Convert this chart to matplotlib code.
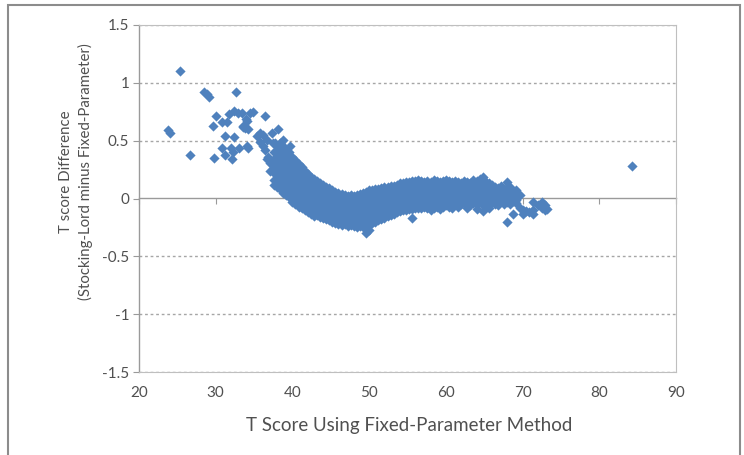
import matplotlib
matplotlib.use("Agg")
import matplotlib.pyplot as plt
from matplotlib.patches import Rectangle

plt.rcParams['font.family'] = ['Lato', 'DejaVu Sans']

# ---- data ----
# sparse low-score points
t_low = [23.8, 24.1, 25.3, 26.6, 28.5, 28.8, 29.1, 32.6, 29.8, 30.1, 29.6, 30.8,
         31.5, 31.7, 32.4, 32.9, 31.2, 32.4, 30.8, 32.0, 32.2, 32.1, 31.2, 33.1,
         33.5, 34.5, 36.4, 34.1, 33.8, 34.2, 34.2, 35.4, 36.1, 35.8, 36.7, 37.3,
         37.7, 36.4, 36.8, 37.1, 38.0, 37.7, 33.4, 34.8, 34.0, 33.6, 34.1, 35.8,
         36.2, 36.7, 37.1, 38.8, 38.4, 39.7, 39.7, 41.0, 41.9, 38.0, 37.5, 38.8,
         38.1]
d_low = [0.59, 0.57, 1.10, 0.38, 0.92, 0.90, 0.88, 0.92, 0.35, 0.71, 0.63, 0.66,
         0.66, 0.73, 0.76, 0.74, 0.54, 0.53, 0.44, 0.44, 0.40, 0.34, 0.38, 0.44,
         0.62, 0.74, 0.71, 0.67, 0.61, 0.60, 0.44, 0.54, 0.55, 0.49, 0.51, 0.57,
         0.48, 0.42, 0.36, 0.31, 0.34, 0.28, 0.74, 0.75, 0.69, 0.63, 0.45, 0.57,
         0.45, 0.34, 0.24, 0.11, 0.40, 0.45, 0.31, 0.23, 0.11, 0.25, 0.48, 0.51,
         0.60]

# dense band: T-score columns and the differences seen at each
t_band = [37.6, 38.0, 38.4, 38.8, 39.2, 39.6, 40.0, 40.4, 40.8, 41.2, 41.6, 42.0,
          42.4, 42.8, 43.2, 43.6, 44.0, 44.4, 44.8, 45.2, 45.6, 46.0, 46.4, 46.8,
          47.2, 47.6, 48.0, 48.4, 48.8, 49.2, 49.6, 50.0, 50.4, 50.8, 51.2, 51.6,
          52.0, 52.4, 52.8, 53.2, 53.6, 54.0, 54.4, 54.8, 55.2, 55.6, 56.0, 56.4,
          56.8, 57.2, 57.6, 58.0, 58.4, 58.8, 59.2, 59.6, 60.0, 60.4, 60.8, 61.2,
          61.6, 62.0, 62.4, 62.8, 63.2, 63.6, 64.0, 64.4, 64.8, 65.2, 65.6, 66.0,
          66.4, 66.8, 67.2, 67.6, 68.0, 68.4, 68.8, 69.2, 69.6, 70.0, 70.4, 70.8,
          71.4, 72.0, 72.5, 72.9, 73.2, 84.3]
d_band = [
    [0.40, 0.34, 0.28, 0.22, 0.16, 0.12],
    [0.45, 0.40, 0.35, 0.30, 0.25, 0.20, 0.15, 0.10],
    [0.48, 0.43, 0.38, 0.33, 0.28, 0.23, 0.18, 0.13, 0.08],
    [0.45, 0.40, 0.35, 0.30, 0.25, 0.20, 0.15, 0.10, 0.05],
    [0.42, 0.37, 0.32, 0.27, 0.22, 0.17, 0.12, 0.07, 0.03],
    [0.40, 0.35, 0.30, 0.25, 0.20, 0.15, 0.10, 0.05, 0.01],
    [0.36, 0.31, 0.26, 0.21, 0.16, 0.11, 0.06, 0.01, -0.03],
    [0.33, 0.28, 0.23, 0.18, 0.13, 0.08, 0.03, -0.02, -0.05],
    [0.30, 0.25, 0.20, 0.15, 0.10, 0.05, 0.00, -0.04, -0.07],
    [0.27, 0.22, 0.17, 0.12, 0.07, 0.02, -0.03, -0.08],
    [0.24, 0.19, 0.14, 0.09, 0.04, -0.01, -0.06, -0.10],
    [0.21, 0.16, 0.11, 0.06, 0.01, -0.04, -0.08, -0.12],
    [0.19, 0.14, 0.09, 0.04, -0.01, -0.06, -0.10, -0.13],
    [0.17, 0.12, 0.07, 0.02, -0.03, -0.08, -0.12, -0.15],
    [0.15, 0.10, 0.05, 0.00, -0.05, -0.10, -0.14],
    [0.13, 0.08, 0.03, -0.02, -0.07, -0.12, -0.16],
    [0.12, 0.07, 0.02, -0.03, -0.08, -0.13, -0.17],
    [0.10, 0.05, 0.00, -0.05, -0.10, -0.14, -0.18],
    [0.09, 0.04, -0.01, -0.06, -0.11, -0.15, -0.19],
    [0.07, 0.02, -0.03, -0.08, -0.12, -0.16, -0.20],
    [0.06, 0.01, -0.04, -0.09, -0.13, -0.17, -0.21],
    [0.05, 0.00, -0.05, -0.10, -0.14, -0.18, -0.22],
    [0.04, -0.01, -0.06, -0.10, -0.15, -0.19, -0.23],
    [0.03, -0.02, -0.07, -0.11, -0.15, -0.19, -0.22],
    [0.02, -0.03, -0.08, -0.12, -0.16, -0.20, -0.24],
    [0.03, -0.02, -0.07, -0.11, -0.15, -0.19, -0.23],
    [0.02, -0.03, -0.08, -0.12, -0.16, -0.20, -0.24],
    [0.03, -0.02, -0.07, -0.11, -0.15, -0.19, -0.23, -0.25],
    [0.04, -0.01, -0.06, -0.10, -0.14, -0.18, -0.22, -0.24],
    [0.05, 0.00, -0.05, -0.09, -0.13, -0.17, -0.21, -0.25],
    [0.06, 0.01, -0.04, -0.08, -0.12, -0.16, -0.20, -0.24, -0.30],
    [0.07, 0.02, -0.03, -0.07, -0.11, -0.15, -0.19, -0.23, -0.27],
    [0.07, 0.02, -0.02, -0.06, -0.10, -0.14, -0.18, -0.21],
    [0.08, 0.03, -0.01, -0.05, -0.09, -0.13, -0.17, -0.20],
    [0.08, 0.04, 0.00, -0.04, -0.08, -0.12, -0.16, -0.19],
    [0.09, 0.05, 0.01, -0.03, -0.07, -0.11, -0.15, -0.18],
    [0.10, 0.06, 0.02, -0.02, -0.06, -0.10, -0.14, -0.17],
    [0.10, 0.06, 0.02, -0.02, -0.06, -0.10, -0.13, -0.15],
    [0.11, 0.07, 0.03, -0.01, -0.05, -0.09, -0.12, -0.14],
    [0.11, 0.07, 0.03, -0.01, -0.05, -0.09, -0.13],
    [0.12, 0.08, 0.04, 0.00, -0.04, -0.08, -0.12],
    [0.13, 0.09, 0.05, 0.01, -0.03, -0.07, -0.11],
    [0.13, 0.09, 0.05, 0.01, -0.03, -0.07, -0.10],
    [0.14, 0.10, 0.06, 0.02, -0.02, -0.06, -0.10],
    [0.14, 0.10, 0.06, 0.02, -0.02, -0.06, -0.09],
    [0.15, 0.11, 0.07, 0.03, -0.01, -0.05, -0.09, -0.17],
    [0.15, 0.11, 0.07, 0.03, -0.01, -0.05, -0.08],
    [0.16, 0.12, 0.08, 0.04, 0.00, -0.04, -0.08],
    [0.15, 0.11, 0.07, 0.03, -0.01, -0.05, -0.08],
    [0.14, 0.10, 0.06, 0.02, -0.02, -0.05, -0.07],
    [0.15, 0.11, 0.07, 0.03, -0.01, -0.05, -0.08],
    [0.14, 0.10, 0.06, 0.02, -0.02, -0.06, -0.10],
    [0.16, 0.12, 0.08, 0.04, 0.00, -0.04, -0.08],
    [0.15, 0.11, 0.07, 0.03, -0.01, -0.05, -0.07],
    [0.14, 0.10, 0.06, 0.02, -0.02, -0.06, -0.09],
    [0.15, 0.11, 0.07, 0.03, -0.01, -0.05, -0.07],
    [0.16, 0.12, 0.08, 0.04, 0.00, -0.03, -0.06],
    [0.15, 0.11, 0.07, 0.03, -0.01, -0.04, -0.07],
    [0.14, 0.10, 0.06, 0.02, -0.02, -0.05, -0.08],
    [0.15, 0.11, 0.07, 0.03, -0.01, -0.04],
    [0.14, 0.10, 0.06, 0.02, -0.02, -0.05, -0.07],
    [0.13, 0.09, 0.05, 0.01, -0.03, -0.05],
    [0.15, 0.11, 0.07, 0.03, -0.01, -0.04],
    [0.14, 0.10, 0.06, 0.02, -0.02, -0.05, -0.08],
    [0.13, 0.09, 0.05, 0.01, -0.03, -0.06],
    [0.16, 0.12, 0.08, 0.04, 0.00, -0.04],
    [0.15, 0.11, 0.07, 0.03, -0.01, -0.05, -0.09],
    [0.17, 0.13, 0.09, 0.05, 0.01, -0.03],
    [0.19, 0.14, 0.10, 0.06, 0.02, -0.02, -0.06, -0.11],
    [0.14, 0.10, 0.06, 0.02, -0.02, -0.06],
    [0.13, 0.09, 0.05, 0.01, -0.03, -0.08],
    [0.12, 0.08, 0.04, 0.00, -0.03],
    [0.10, 0.06, 0.02, -0.02, -0.05],
    [0.09, 0.05, 0.01, -0.03, -0.06],
    [0.11, 0.07, 0.03, -0.01],
    [0.08, 0.04, 0.00, -0.05],
    [0.14, 0.09, 0.05, 0.01, -0.03, -0.20],
    [0.10, 0.06, 0.02, -0.02, -0.05],
    [0.06, 0.02, -0.02, -0.13],
    [0.07, 0.03, -0.01, -0.04],
    [0.03, -0.08], [-0.10, -0.13], [-0.11], [-0.12],
    [-0.03, -0.10, -0.13], [-0.06], [-0.03, -0.08], [-0.06, -0.10], [-0.09],
    [0.28],
]

x_ticks = [20, 30, 40, 50, 60, 70, 80, 90]
y_ticks = [-1.5, -1, -0.5, 0, 0.5, 1, 1.5]
y_tick_labels = ['-1.5', '-1', '-0.5', '0', '0.5', '1', '1.5']

x_label = "T Score Using Fixed-Parameter Method"
y_label = "T score Difference\n(Stocking-Lord minus Fixed-Parameter)"

# ---- expand the band table ----
xs = list(t_low)
ys = list(d_low)
for t, ds in zip(t_band, d_band):
    for d in ds:
        xs.append(t)
        ys.append(d)

marker_color = '#4f81bd'
grid_color = '#a6a6a6'
axis_color = '#9a9a9a'
text_color = '#505050'

fig = plt.figure(figsize=(7.44, 4.55), dpi=100)
ax = fig.add_axes([139/744, 1 - 372/455, (676 - 139)/744, (372 - 25)/455])

ax.scatter(xs, ys, marker='D', s=27, color=marker_color, linewidths=0, zorder=3)

ax.set_xlim(20, 90)
ax.set_ylim(-1.5, 1.5)
ax.set_xticks(x_ticks)
ax.set_yticks(y_ticks)
ax.set_yticklabels(y_tick_labels)

for yv in y_ticks:
    if yv != 0:
        ax.axhline(yv, color=grid_color, lw=1.0, ls=(0, (2, 2)), zorder=1)

for side in ['top', 'right', 'bottom']:
    ax.spines[side].set_color('#bfbfbf')
    ax.spines[side].set_linewidth(0.8)
ax.spines['left'].set_color(axis_color)
ax.spines['left'].set_linewidth(1.0)

ax.tick_params(axis='x', length=0, pad=10, labelsize=11, colors=text_color)
ax.tick_params(axis='y', length=4, direction='out', color=axis_color,
               pad=3, labelsize=11, labelcolor=text_color)

# horizontal axis crossing at y=0
sec = ax.secondary_xaxis(0.5)
sec.set_xticks(x_ticks)
sec.set_xticklabels([])
sec.tick_params(axis='x', length=4, direction='in', color=axis_color)
for sp in sec.spines.values():
    sp.set_color(axis_color)
    sp.set_linewidth(1.0)

fig.text((139 + 676) / 2 / 744 + 0.002, 1 - 426/455, x_label, ha='center', va='center',
         fontsize=13.5, color=text_color)
fig.text(76/744, 1 - 172/455, y_label, ha='center', va='center', rotation=90,
         fontsize=10.8, color=text_color, linespacing=1.35)

fig.patches.append(Rectangle((8/744, -0.02), (740 - 8)/744, 1.02 - 5/455,
                             transform=fig.transFigure, fill=False,
                             edgecolor='#8c8c8c', lw=1.5))

fig.savefig('out.png', dpi=100)
